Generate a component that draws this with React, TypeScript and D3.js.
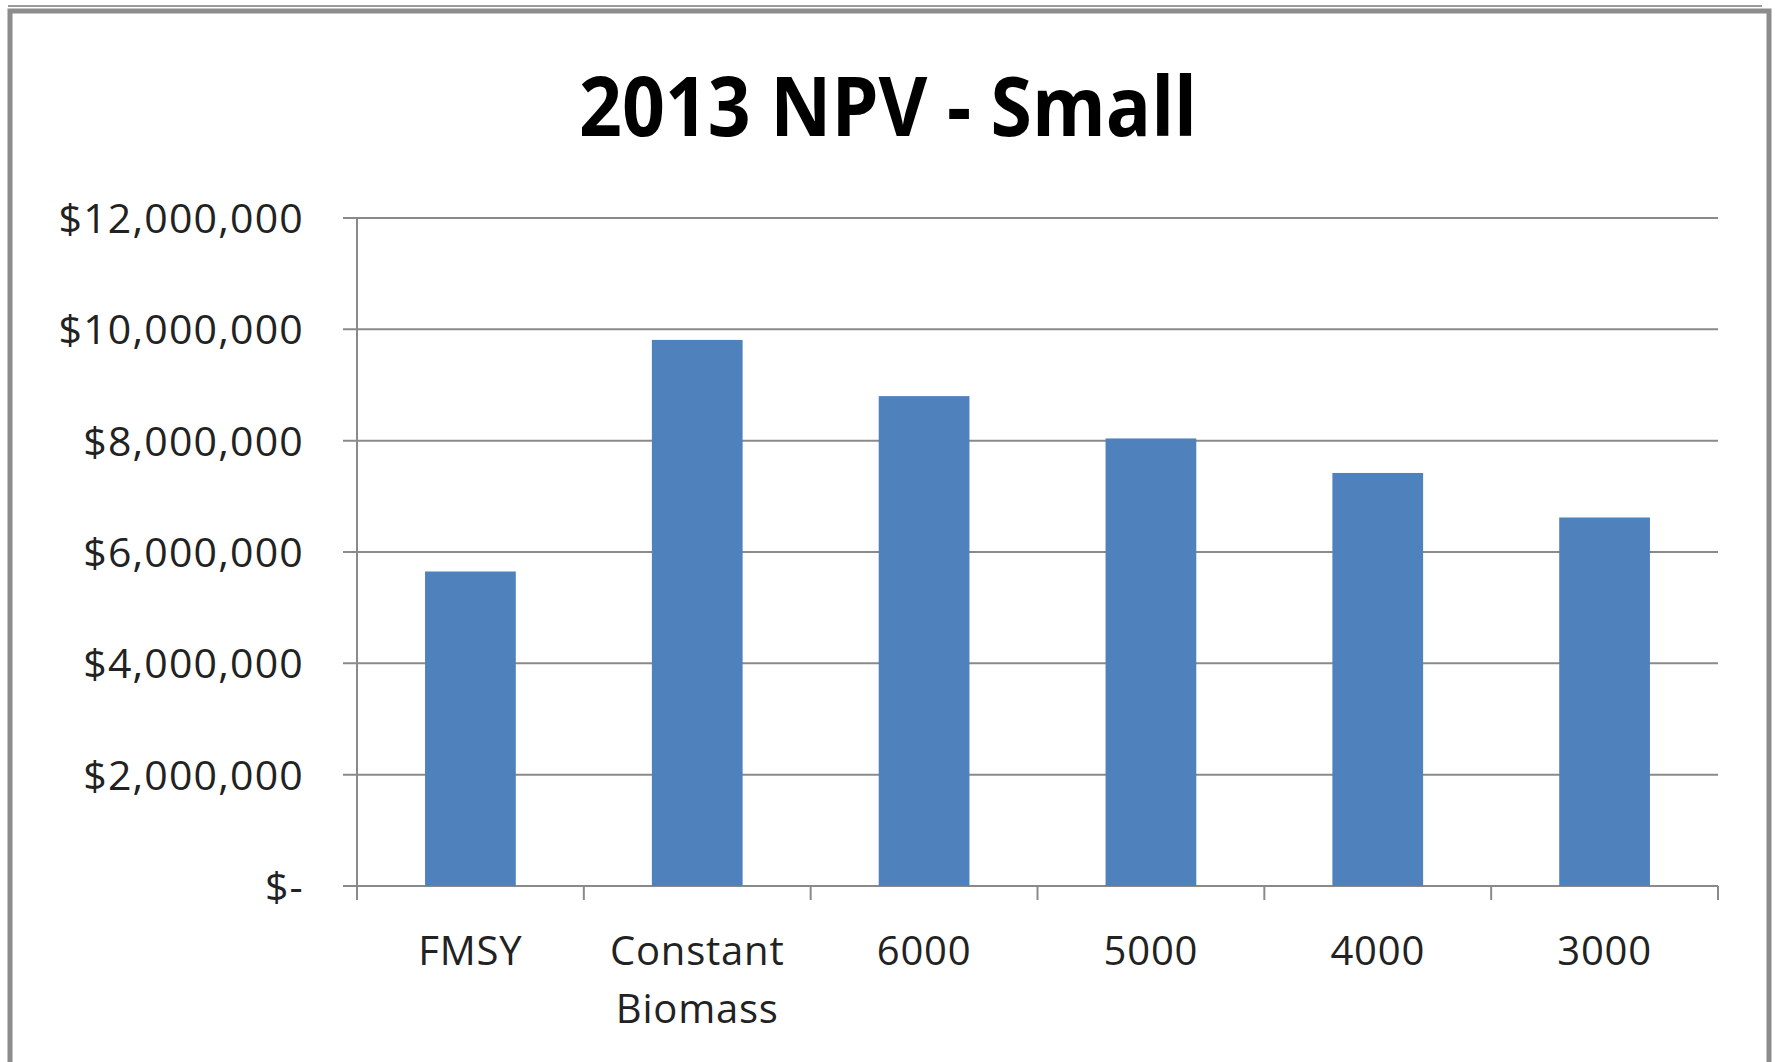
import React from "react";
import * as d3 from "d3";

const categories: string[][] = [["FMSY"], ["Constant", "Biomass"], ["6000"], ["5000"], ["4000"], ["3000"]];
const npvValues: number[] = [5650000, 9810000, 8800000, 8040000, 7420000, 6620000];
const yTicks: number[] = [0, 2000000, 4000000, 6000000, 8000000, 10000000, 12000000];
const titleText = "2013 NPV - Small";

const W = 1775;
const H = 1062;
const plot = { left: 357, right: 1718, top: 218, bottom: 886 };

const fmt = (v: number) => (v === 0 ? "$-" : "$" + d3.format(",")(v));

export default function App() {
  const x = d3
    .scaleBand<number>()
    .domain(categories.map((_, i) => i))
    .range([plot.left, plot.right])
    .paddingInner(0.6)
    .paddingOuter(0.3);
  const band = (plot.right - plot.left) / categories.length;
  const y = d3.scaleLinear().domain([0, 12000000]).range([plot.bottom, plot.top]);
  const font = "'Open Sans', sans-serif";
  const gridColor = "#8a8a8a";

  return (
    <svg width={W} height={H} style={{ position: "absolute", left: 0, top: 0, background: "#fff" }}>
      <rect x={0} y={0} width={W} height={H} fill="#fff" />
      <rect x={10} y={11} width={1759} height={H + 20} fill="none" stroke="#8c8c8c" strokeWidth={5} />
      <line x1={8} x2={1762} y1={6} y2={6} stroke="#9a9a9a" strokeWidth={2} />

      <text
        x={888}
        y={136}
        textAnchor="middle"
        fontFamily={font}
        fontWeight={700}
        fontSize={82}
        textLength={618}
        lengthAdjust="spacingAndGlyphs"
        fill="#000"
      >
        {titleText}
      </text>

      {yTicks.map((t) => (
        <g key={t}>
          <line x1={plot.left - 14} x2={plot.right} y1={y(t)} y2={y(t)} stroke={gridColor} strokeWidth={2} />
          <text
            x={304}
            y={y(t) + 15}
            textAnchor="end"
            fontFamily={font}
            fontSize={41}
            letterSpacing={1.2}
            fill="#222"
          >
            {fmt(t)}
          </text>
        </g>
      ))}

      <line x1={plot.left} x2={plot.left} y1={plot.top} y2={plot.bottom + 14} stroke={gridColor} strokeWidth={2} />
      {categories.map((_, i) => (
        <line
          key={"t" + i}
          x1={plot.left + band * (i + 1)}
          x2={plot.left + band * (i + 1)}
          y1={plot.bottom}
          y2={plot.bottom + 14}
          stroke={gridColor}
          strokeWidth={2}
        />
      ))}

      {npvValues.map((v, i) => (
        <rect
          key={"b" + i}
          x={x(i)!}
          y={y(v)}
          width={x.bandwidth()}
          height={plot.bottom - y(v)}
          fill="#4f81bd"
        />
      ))}

      {categories.map((lines, i) => (
        <text
          key={"c" + i}
          x={x(i)! + x.bandwidth() / 2}
          y={965}
          textAnchor="middle"
          fontFamily={font}
          fontSize={40}
          letterSpacing={0.8}
          fill="#222"
        >
          {lines.map((l, j) => (
            <tspan key={j} x={x(i)! + x.bandwidth() / 2} dy={j === 0 ? 0 : 58}>
              {l}
            </tspan>
          ))}
        </text>
      ))}
    </svg>
  );
}
